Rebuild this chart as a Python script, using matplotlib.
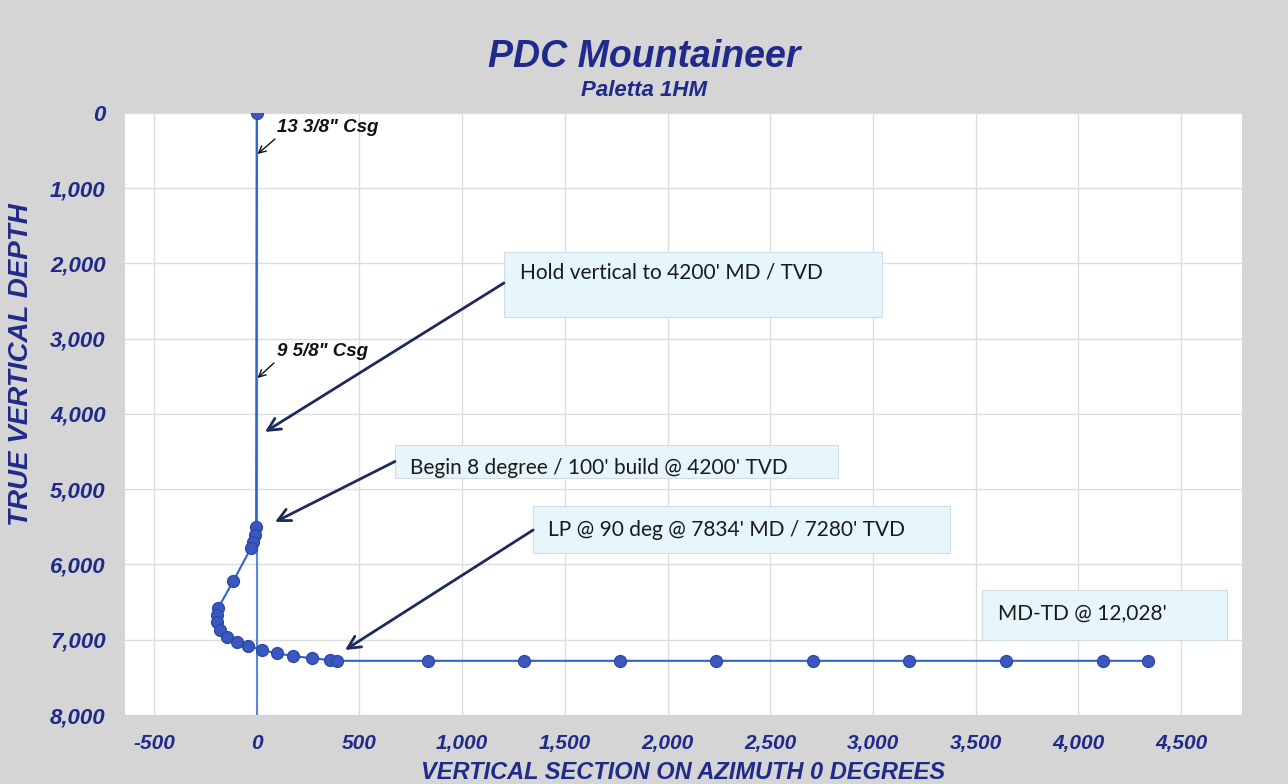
import matplotlib
matplotlib.use("Agg")
import matplotlib.pyplot as plt
from matplotlib.patches import Rectangle
from matplotlib.ticker import FuncFormatter

plt.rcParams["font.family"] = ["Liberation Sans", "DejaVu Sans"]

# survey points: vertical section (ft) and true vertical depth (ft)
vsec = [0, -3, -8, -17, -29, -114, -187, -195, -192, -179, -146, -97, -41, 24, 97,
        178, 268, 357, 389, 834, 1301, 1769, 2236, 2708, 3176, 3648, 4120, 4339]
tvd = [0, 5497, 5608, 5697, 5785, 6220, 6575, 6671, 6760, 6870, 6960, 7026, 7080, 7136,
       7180, 7216, 7246, 7270, 7280, 7280, 7280, 7280, 7280, 7280, 7280, 7280, 7280, 7280]

x_ticks = [-500, 0, 500, 1000, 1500, 2000, 2500, 3000, 3500, 4000, 4500]
y_ticks = [0, 1000, 2000, 3000, 4000, 5000, 6000, 7000, 8000]

navy = "#1f2a8a"
bg = "#d5d5d5"

fig = plt.figure(figsize=(12.88, 7.84), dpi=100, facecolor=bg)
ax = fig.add_axes([0.0971, 0.088, 0.8672, 0.7679])
ax.set_facecolor("white")

ax.set_xlim(-641, 4797)
ax.set_ylim(8000, 0)
ax.set_xticks(x_ticks)
ax.set_yticks(y_ticks)
ax.xaxis.set_major_formatter(FuncFormatter(lambda v, p: f"{int(v):,}"))
ax.yaxis.set_major_formatter(FuncFormatter(lambda v, p: f"{int(v):,}"))
ax.grid(True, color="#dcdcdc", linewidth=1)
ax.set_axisbelow(True)
ax.tick_params(length=0, labelcolor=navy)
ax.tick_params(axis="y", pad=14, labelsize=16)
ax.tick_params(axis="x", pad=14, labelsize=15)
for lab in ax.get_xticklabels() + ax.get_yticklabels():
    lab.set_fontweight("bold")
    lab.set_fontstyle("italic")
for s in ax.spines.values():
    s.set_visible(False)

# vertical axis line at x=0
ax.axvline(0, color="#5a86dc", linewidth=1.5, zorder=2)

ax.plot(vsec, tvd, color="#2f63d0", linewidth=1.5, marker="o", markersize=8.5,
        markerfacecolor="#3a58c0", markeredgecolor="#2c47a8", zorder=3)

fig.text(0.5, 0.927, "PDC Mountaineer", ha="center", va="center", fontsize=27,
         fontweight="bold", fontstyle="italic", color=navy)
fig.text(0.5, 0.885, "Paletta 1HM", ha="center", va="center", fontsize=16,
         fontweight="bold", fontstyle="italic", color=navy)
fig.text(0.53, 0.0, "VERTICAL SECTION ON AZIMUTH 0 DEGREES", ha="center", va="bottom",
         fontsize=17, fontweight="bold", fontstyle="italic", color=navy)
fig.text(0.016, 0.535, "TRUE VERTICAL DEPTH", ha="center", va="center", rotation=90,
         fontsize=20, fontweight="bold", fontstyle="italic", color=navy)

# casing notes
csg_kw = dict(fontsize=13.5, fontweight="bold", fontstyle="italic", color="#111111", va="center")
csg_arrow = dict(arrowstyle="->,head_length=0.5,head_width=0.25", color="#111111", lw=1,
                 shrinkA=0, shrinkB=0)
ax.text(100, 199, "13 3/8\" Csg", **csg_kw)
ax.annotate("", xy=(4, 545), xytext=(89, 346), arrowprops=csg_arrow)
ax.text(100, 3176, "9 5/8\" Csg", **csg_kw)
ax.annotate("", xy=(4, 3522), xytext=(84, 3322), arrowprops=csg_arrow)

# call-out boxes
box_fc = "#e6f6fb"
box_ec = "#cfdde2"
boxes = [
    ((1204, 1847), 1840, 864, (1282, 2126), "Hold vertical to 4200' MD / TVD"),
    ((673, 4412), 2157, 438, (746, 4718), "Begin 8 degree / 100' build @ 4200' TVD"),
    ((1346, 5223), 2029, 624, (1418, 5541), "LP @ 90 deg @ 7834' MD / 7280' TVD"),
    ((3531, 6339), 1193, 664, (3608, 6658), "MD-TD @ 12,028'"),
]
for (bx, by), w, h, (tx, ty), txt in boxes:
    ax.add_patch(Rectangle((bx, by), w, h, facecolor=box_fc, edgecolor=box_ec,
                           linewidth=0.8, zorder=4))
    ax.text(tx, ty, txt, fontsize=15, color="#1a1a1a", va="center", ha="left",
            family=["Lato", "DejaVu Sans"], zorder=5)

arrow_kw = dict(arrowstyle="->,head_length=0.9,head_width=0.45", color="#1c2a5c", lw=2,
                shrinkA=0, shrinkB=0)
ax.annotate("", xy=(40, 4239), xytext=(1204, 2259), arrowprops=arrow_kw, zorder=6)
ax.annotate("", xy=(89, 5435), xytext=(673, 4631), arrowprops=arrow_kw, zorder=6)
ax.annotate("", xy=(430, 7136), xytext=(1346, 5541), arrowprops=arrow_kw, zorder=6)

fig.savefig("out.png", dpi=100, facecolor=bg)
